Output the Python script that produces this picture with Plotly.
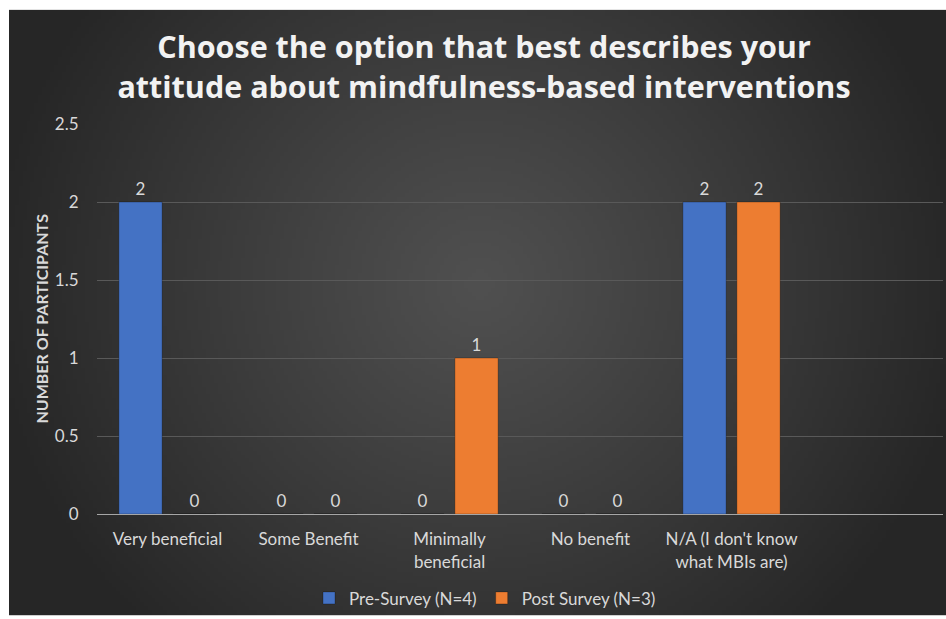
import base64, struct, zlib
import numpy as np
import plotly.graph_objects as go

categories = ["Very beneficial", "Some Benefit", "Minimally<br>beneficial", "No benefit",
              "N/A (I don't know<br>what MBIs are)", " "]
pre_survey = [2, 0, 0, 0, 2, None]
post_survey = [0, 0, 1, 0, 2, None]
series_names = ["Pre-Survey (N=4)", "Post Survey (N=3)"]
y_ticks = [0, 0.5, 1, 1.5, 2, 2.5]
y_tick_text = ["0", "0.5", "1", "1.5", "2", "2.5"]

# radial gradient background image
W, H = 240, 160
yy, xx = np.mgrid[0:H, 0:W].astype(float)
cx, cy = 0.5 * W, 0.45 * H
d = np.sqrt(((xx - cx) / (0.62 * W)) ** 2 + ((yy - cy) / (0.62 * W)) ** 2)
d = np.clip(d / 0.85, 0, 1)
c0, c1 = 80.0, 38.0
val = (c0 + (c1 - c0) * d ** 1.1).astype(np.uint8)
rgb = np.stack([val, val, val], axis=-1)
raw = b"".join(b"\x00" + rgb[r].tobytes() for r in range(H))
def chunk(t, data):
    c = struct.pack(">I", len(data)) + t + data
    return c + struct.pack(">I", zlib.crc32(t + data) & 0xffffffff)
png = b"\x89PNG\r\n\x1a\n" + chunk(b"IHDR", struct.pack(">IIBBBBB", W, H, 8, 2, 0, 0, 0)) \
    + chunk(b"IDAT", zlib.compress(raw, 9)) + chunk(b"IEND", b"")
img_src = "data:image/png;base64," + base64.b64encode(png).decode()

FW, FH = 946, 619
ML, MR, MT, MB = 97, 3, 124, 102
PW, PH = FW - ML - MR, FH - MT - MB
def px_x(p):
    return (p - ML) / PW
def px_y(p):
    return (FH - MB - p) / PH

font = "Lato, Calibri, sans-serif"
label_col = "#d9d9d9"
fs = 17

fig = go.Figure()
fig.add_trace(go.Bar(
    x=categories, y=pre_survey, name=series_names[0],
    marker=dict(color="#4472C4", line=dict(color="rgba(0,0,0,0.25)", width=1)),
    text=[("" if v is None else str(v)) for v in pre_survey], textposition="outside",
    textfont=dict(color=label_col, size=fs, family=font), cliponaxis=False,
))
fig.add_trace(go.Bar(
    x=categories, y=post_survey, name=series_names[1],
    marker=dict(color="#ED7D31", line=dict(color="rgba(0,0,0,0.25)", width=1)),
    text=[("" if v is None else str(v)) for v in post_survey], textposition="outside",
    textfont=dict(color=label_col, size=fs, family=font), cliponaxis=False,
))

fig.update_layout(
    width=FW, height=FH,
    margin=dict(l=ML, r=MR, t=MT, b=MB),
    paper_bgcolor="white", plot_bgcolor="rgba(0,0,0,0)",
    barmode="group", bargap=0.234, bargroupgap=0.2,
    font=dict(family=font, color=label_col, size=fs),
    title=dict(
        text="Choose the option that best describes your<br>attitude about mindfulness-based interventions",
        x=484 / FW, xanchor="center",
        y=1 - 58 / FH, yanchor="middle", yref="container",
        font=dict(family="Open Sans, sans-serif", size=30.5, color="#f2f2f2", weight="bold"),
    ),
    xaxis=dict(
        type="category", range=[-0.5, 5.5],
        showline=True, linecolor="#a6a6a6", linewidth=1,
        ticks="outside", ticklen=10, tickcolor="rgba(0,0,0,0)",
        tickfont=dict(size=fs, color=label_col, family=font),
        showgrid=False, fixedrange=True,
    ),
    yaxis=dict(
        range=[0, 2.5], tickvals=y_ticks, ticktext=y_tick_text,
        showgrid=True, gridcolor="#595959", gridwidth=1,
        zeroline=False, showline=False,
        ticks="outside", ticklen=14, tickcolor="rgba(0,0,0,0)",
        tickfont=dict(size=fs, color=label_col, family=font),
    ),
    legend=dict(
        orientation="h", x=px_x(485), xanchor="center", y=px_y(602), yanchor="middle",
        font=dict(size=fs, color=label_col, family=font), bgcolor="rgba(0,0,0,0)",
        itemwidth=30, traceorder="normal",
    ),
    showlegend=True,
    images=[dict(
        source=img_src, xref="paper", yref="paper",
        x=px_x(9), y=px_y(9), sizex=(FW - 9) / PW, sizey=(FH - 9) / PH,
        xanchor="left", yanchor="top", sizing="stretch", layer="below",
    )],
    annotations=[dict(
        text="<b>NUMBER OF PARTICIPANTS</b>", textangle=-90,
        xref="paper", yref="paper", x=px_x(42), y=px_y(320),
        xanchor="center", yanchor="middle", showarrow=False,
        font=dict(size=16, color=label_col, family=font),
    )],
)

fig.write_html("out.html")
